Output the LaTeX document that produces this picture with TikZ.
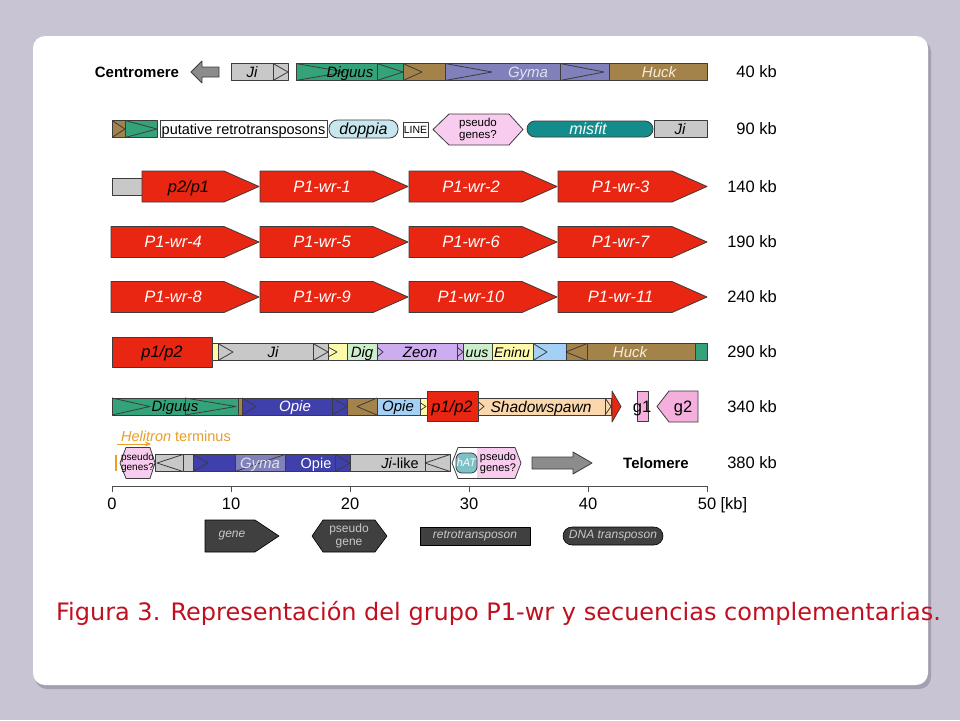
\documentclass[tikz,border=0pt]{standalone}
\usepackage{fontspec}
\setmainfont{Liberation Sans}
\newfontfamily\capfont{DejaVu Sans}
\usetikzlibrary{positioning,arrows.meta}

\definecolor{bgcol}{RGB}{201,196,212}
\definecolor{shadowcol}{RGB}{165,160,175}
\definecolor{edgecol}{RGB}{60,60,60}
\definecolor{tegray}{RGB}{200,200,200}
\definecolor{arrgray}{RGB}{140,140,140}
\definecolor{digcol}{RGB}{52,163,122}
\definecolor{huckcol}{RGB}{163,131,74}
\definecolor{gymacol}{RGB}{128,128,186}
\definecolor{genered}{RGB}{232,38,18}
\definecolor{doppiacol}{RGB}{200,230,238}
\definecolor{misfitcol}{RGB}{20,140,140}
\definecolor{pinkcol}{RGB}{248,204,238}
\definecolor{yelcol}{RGB}{255,250,170}
\definecolor{ltgreen}{RGB}{205,238,205}
\definecolor{zeoncol}{RGB}{205,172,240}
\definecolor{ltblue}{RGB}{165,208,245}
\definecolor{opiecol}{RGB}{64,64,172}
\definecolor{peachcol}{RGB}{250,215,172}
\definecolor{gtwocol}{RGB}{245,175,220}
\definecolor{hatcol}{RGB}{125,192,198}
\definecolor{helcol}{RGB}{232,158,40}
\definecolor{legcol}{RGB}{64,64,64}
\definecolor{captcol}{RGB}{192,16,32}
\definecolor{gymatxt}{RGB}{225,225,240}
\definecolor{hucktxt}{RGB}{245,238,220}

\tikzset{
  te/.style={draw=edgecol,line width=0.8pt},
  ltr/.style={draw=edgecol,line width=0.8pt},
  genebox/.style={draw=edgecol,line width=0.8pt,fill=genered},
  legbox/.style={draw=black,line width=0.6pt,fill=legcol},
  mid/.style={inner sep=0pt,text height=#1,text depth=0pt},
  mid/.default=10.8pt,
  lbl/.style={mid,font=\fontsize{15}{15}\selectfont\itshape,text=black},
  plain/.style={mid,font=\fontsize{14.5}{14.5}\selectfont,text=black},
  tiny/.style={inner sep=0pt,font=\fontsize{11}{11.5}\selectfont,align=center,text=black},
  genelbl/.style={mid=11.8pt,font=\fontsize{16.5}{16.5}\selectfont\itshape,text=white},
  bold/.style={mid=10.9pt,font=\fontsize{15}{15}\selectfont\bfseries},
  kb/.style={mid=11.8pt,font=\fontsize{16.5}{16.5}\selectfont,anchor=east},
  tick/.style={mid=11.8pt,font=\fontsize{16.5}{16.5}\selectfont},
  leglbl/.style={inner sep=0pt,font=\fontsize{12}{13}\selectfont,text=tegray},
  axis/.style={draw=black!70,line width=0.9pt},
  capt/.style={mid=17.5pt,font=\capfont\fontsize{24}{24}\selectfont,text=captcol}
}

% one segment of a track, 17 high
\newcommand{\seg}[4]{\draw[te,fill=#4] (#1,#3-8.5) rectangle (#2,#3+8.5);}
% open triangle: base x, tip x, y, half height
\newcommand{\tri}[4]{\draw[ltr] (#1,#3-#4) -- (#2,#3) -- (#1,#3+#4);}
% gene arrow: name, start, tip, y, label
\newcommand{\genearrow}[5]{%
  \draw[genebox] (#2,#4-15.5) -- (#3-35,#4-15.5) -- (#3,#4) -- (#3-35,#4+15.5) -- (#2,#4+15.5) -- cycle;
  \node[genelbl] (#1) at ({(#2+#3)/2-12},#4) {#5};}

\begin{document}
\begin{tikzpicture}[x=1pt,y=-1pt,line join=round]
\useasboundingbox (0,0) rectangle (960,720);
\fill[bgcol] (0,0) rectangle (960,720);
\fill[shadowcol,rounded corners=12pt] (35,40) rectangle (931,689);
\fill[white,rounded corners=12pt] (33,36) rectangle (928,685);

% 40 kb
\node[bold] (cen) at (137,72) {Centromere};
\draw[te,fill=arrgray] (191,72) -- (202,61) -- (202,67) -- (219,67) -- (219,77) -- (202,77) -- (202,83) -- cycle;
\seg{231}{273}{72}{tegray}
\seg{273}{288}{72}{tegray}\tri{273}{288}{72}{8.5}
\seg{296}{377}{72}{digcol}\tri{296}{345}{72}{8.5}
\seg{377}{403}{72}{digcol}\tri{377}{403}{72}{8.5}
\seg{403}{445}{72}{huckcol}\tri{403}{422}{72}{8.5}
\seg{445}{609}{72}{gymacol}\tri{445}{492}{72}{8.5}
\seg{560}{609}{72}{gymacol}\tri{560}{604}{72}{8.5}
\seg{609}{707}{72}{huckcol}
\node[lbl] (jia) at (252,72) {Ji};
\node[lbl] (diga) at (350,72) {Diguus};
\node[lbl,text=gymatxt] (gymaa) at (528,72) {Gyma};
\node[lbl,text=hucktxt] (hucka) at (659,72) {Huck};
\node[kb] (kba) at (777,72) {40 kb};

% 90 kb
\seg{112}{125}{129}{huckcol}\tri{112}{125}{129}{8.5}
\seg{125}{157}{129}{digcol}\tri{125}{157}{129}{8.5}
\seg{160}{327}{129}{white}
\draw[te,fill=doppiacol,rounded corners=8.5pt] (329,120) rectangle (398,138);
\draw[te,fill=white] (403,122) rectangle (428,137);
\draw[te,fill=pinkcol] (433,129.5) -- (449,114) -- (509,114) -- (523,129.5) -- (509,145) -- (449,145) -- cycle;
\draw[te,fill=misfitcol,rounded corners=8pt] (527,121) rectangle (653,137);
\seg{654}{707}{129}{tegray}
\node[plain] (putat) at (243.5,129) {putative retrotransposons};
\node[lbl,mid=11.5pt,font=\fontsize{16}{16}\selectfont\itshape] (doppia) at (363.5,129) {doppia};
\node[tiny,font=\fontsize{10.5}{11}\selectfont] (linee) at (415.5,129.5) {LINE};
\node[tiny,font=\fontsize{11.5}{12}\selectfont] (pseua) at (478,129.5) {pseudo\\genes?};
\node[lbl,mid=11.5pt,font=\fontsize{16}{16}\selectfont\itshape,text=white] (misfit) at (588,129) {misfit};
\node[lbl] (jib) at (680,129) {Ji};
\node[kb] (kbb) at (777,129) {90 kb};

% 140 kb
\seg{112}{142}{186.5}{tegray}
\genearrow{ptwo}{142}{259}{186.5}{\color{black}p2/p1}
\genearrow{wra}{260}{408}{186.5}{P1-wr-1}
\genearrow{wrb}{409}{557}{186.5}{P1-wr-2}
\genearrow{wrc}{558}{707}{186.5}{P1-wr-3}
\node[kb] (kbc) at (777,186.5) {140 kb};

% 190 kb
\genearrow{wrd}{111}{259}{242}{P1-wr-4}
\genearrow{wre}{260}{408}{242}{P1-wr-5}
\genearrow{wrf}{409}{557}{242}{P1-wr-6}
\genearrow{wrg}{558}{707}{242}{P1-wr-7}
\node[kb] (kbd) at (777,242) {190 kb};

% 240 kb
\genearrow{wrh}{111}{259}{297}{P1-wr-8}
\genearrow{wri}{260}{408}{297}{P1-wr-9}
\genearrow{wrj}{409}{557}{297}{P1-wr-10}
\genearrow{wrk}{558}{707}{297}{P1-wr-11}
\node[kb] (kbe) at (777,297) {240 kb};

% 290 kb
\draw[genebox] (112,337) rectangle (212,367);
\seg{212}{218}{352}{yelcol}
\seg{218}{313}{352}{tegray}\tri{218}{233}{352}{8.5}
\seg{313}{328}{352}{tegray}\tri{313}{328}{352}{8.5}
\seg{328}{347}{352}{yelcol}\tri{328}{337}{352}{5}
\seg{347}{377}{352}{ltgreen}
\seg{377}{463}{352}{zeoncol}\tri{377}{383}{352}{5}
\seg{457}{463}{352}{zeoncol}\tri{457}{463}{352}{5}
\seg{463}{492}{352}{ltgreen}
\seg{492}{533}{352}{yelcol}
\seg{533}{566}{352}{ltblue}\tri{533}{547}{352}{8.5}
\seg{566}{695}{352}{huckcol}
\seg{566}{587}{352}{huckcol}\tri{587}{566}{352}{8.5}
\seg{695}{707}{352}{digcol}
\node[genelbl,text=black] (ponea) at (162,352) {p1/p2};
\node[lbl] (jic) at (273,352) {Ji};
\node[lbl] (digb) at (362,352) {Dig};
\node[lbl] (zeon) at (420,352) {Zeon};
\node[lbl,font=\fontsize{14}{14}\selectfont\itshape] (uus) at (477,352) {uus};
\node[lbl,font=\fontsize{14}{14}\selectfont\itshape] (eninu) at (512,352) {Eninu};
\node[lbl,text=hucktxt] (huckb) at (630,352) {Huck};
\node[kb] (kbf) at (777,352) {290 kb};

% 340 kb
\seg{112}{185}{406.5}{digcol}\tri{112}{150}{406.5}{8.5}
\seg{185}{238}{406.5}{digcol}\tri{185}{236}{406.5}{8.5}
\seg{238}{242}{406.5}{huckcol}
\seg{242}{347}{406.5}{opiecol}\tri{242}{256}{406.5}{8.5}
\seg{332}{347}{406.5}{opiecol}\tri{332}{347}{406.5}{8.5}
\seg{347}{377}{406.5}{huckcol}\tri{377}{357}{406.5}{8.5}
\seg{377}{420}{406.5}{ltblue}
\seg{420}{427}{406.5}{yelcol}\tri{420}{426}{406.5}{4}
\draw[genebox] (427,391) rectangle (478,421);
\seg{478}{605}{406.5}{peachcol}\tri{478}{484}{406.5}{5}
\seg{605}{611}{406.5}{peachcol}\tri{605}{611}{406.5}{8.5}
\draw[genebox] (612,391) -- (621,406.5) -- (612,422) -- cycle;
\draw[te,fill=gtwocol] (637,391) rectangle (648,421);
\draw[te,fill=gtwocol] (657,406.5) -- (669,391) -- (698,391) -- (698,422) -- (669,422) -- cycle;
\node[lbl] (digc) at (175,406.5) {Diguus};
\node[lbl,text=white] (opiea) at (295,406.5) {Opie};
\node[lbl] (opieb) at (398,406.5) {Opie};
\node[genelbl,text=black] (poneb) at (452,406.5) {p1/p2};
\node[lbl,mid=11.2pt,font=\fontsize{15.5}{15.5}\selectfont\itshape] (shadow) at (541,406.5) {Shadowspawn};
\node[genelbl,font=\fontsize{16.5}{16.5}\selectfont,text=black] (gone) at (642,406.5) {g1};
\node[genelbl,font=\fontsize{16.5}{16.5}\selectfont,text=black] (gtwo) at (683,406.5) {g2};
\node[kb] (kbg) at (777,406.5) {340 kb};

% 380 kb
\node[plain,text=helcol] (helit) at (176,436) {\textit{Helitron} terminus};
\coordinate (hela) at (117,444);
\coordinate (helb) at (151,444);
\draw[helcol,line width=1pt,-{Stealth[length=6pt,width=5pt]}] (hela) -- (helb);
\draw[helcol,line width=2.5pt] (116,455) -- (116,471);
\seg{155}{183}{463}{tegray}\tri{183}{157}{463}{8.5}
\seg{183}{193}{463}{tegray}
\seg{193}{235}{463}{opiecol}\tri{193}{208}{463}{8.5}
\seg{235}{285}{463}{gymacol}
\draw[ltr] (235,471.5) -- (285,454.5);
\seg{285}{335}{463}{opiecol}
\seg{335}{350}{463}{opiecol}\tri{335}{350}{463}{8.5}
\seg{350}{425}{463}{tegray}
\seg{425}{450}{463}{tegray}\tri{450}{425}{463}{8.5}
\draw[te,fill=pinkcol] (120,463) -- (126,447.5) -- (150,447.5) -- (155,463) -- (150,478.5) -- (126,478.5) -- cycle;
\fill[white] (452,463) -- (458,447.5) -- (515,447.5) -- (521,463) -- (515,478.5) -- (458,478.5) -- cycle;
\begin{scope}
  \clip (452,463) -- (458,447.5) -- (515,447.5) -- (521,463) -- (515,478.5) -- (458,478.5) -- cycle;
  \fill[pinkcol] (477,440) rectangle (525,485);
\end{scope}
\draw[te] (452,463) -- (458,447.5) -- (515,447.5) -- (521,463) -- (515,478.5) -- (458,478.5) -- cycle;
\draw[te,fill=hatcol,rounded corners=6pt] (456,453) rectangle (477,473);
\draw[te,fill=arrgray] (532,457) -- (573,457) -- (573,452) -- (592,463) -- (573,474) -- (573,469) -- (532,469) -- cycle;
\node[tiny,font=\fontsize{10}{10.5}\selectfont] (pseub) at (137.5,463) {pseudo\\genes?};
\node[lbl,text=gymatxt] (gymab) at (260,463) {Gyma};
\node[plain,text=white] (opiec) at (316,463) {Opie};
\node[plain] (jilike) at (400,463) {\textit{Ji}-like};
\node[mid=7.9pt,font=\fontsize{11}{11}\selectfont\itshape,text=white] (hat) at (466.5,463) {hAT};
\node[tiny] (pseuc) at (498,463) {pseudo\\genes?};
\node[bold] (telo) at (656,463) {Telomere};
\node[kb] (kbh) at (777,463) {380 kb};

% scale
\draw[axis] (112,486) -- (707,486);
\draw[axis] (112,486) -- (112,492);
\draw[axis] (231,486) -- (231,492);
\draw[axis] (350,486) -- (350,492);
\draw[axis] (469,486) -- (469,492);
\draw[axis] (588,486) -- (588,492);
\draw[axis] (707,486) -- (707,492);
\node[tick] (ta) at (112,504) {0};
\node[tick] (tb) at (231,504) {10};
\node[tick] (tc) at (350,504) {20};
\node[tick] (td) at (469,504) {30};
\node[tick] (te) at (588,504) {40};
\node[tick] (tf) at (707,504) {50};
\node[tick,right=4pt of tf] (unit) {[kb]};

% legend
\draw[legbox] (205,520) -- (255,520) -- (279,536) -- (255,552) -- (205,552) -- cycle;
\draw[legbox] (312,536) -- (323,520) -- (375,520) -- (387,536) -- (375,552) -- (323,552) -- cycle;
\draw[legbox] (420,527) rectangle (530,545);
\draw[legbox,rounded corners=9pt] (563,527) rectangle (663,545);
\node[leglbl] (lgene) at (232,536) {\itshape gene};
\node[leglbl,align=center] (lpseudo) at (349,536) {pseudo\\gene};
\node[leglbl] (lretro) at (475,536) {\itshape retrotransposon};
\node[leglbl] (ldna) at (613,536) {\itshape DNA transposon};

\node[capt] (caption) at (498.5,612) {Figura 3. Representación del grupo P1-wr y secuencias complementarias.};
\end{tikzpicture}
\end{document}
